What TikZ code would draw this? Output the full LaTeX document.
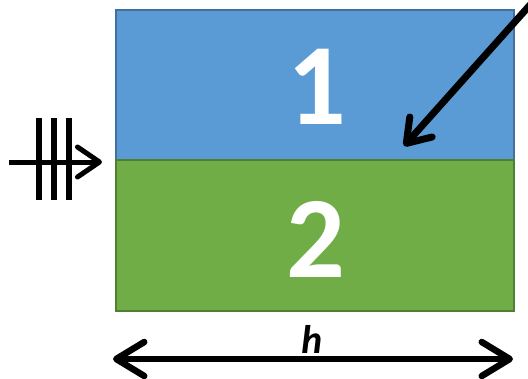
\documentclass[tikz,border=0pt]{standalone}
\usepackage{fontspec}
\setmainfont{Carlito}
\usetikzlibrary{arrows.meta}

\definecolor{boxblue}{HTML}{5B9BD5}
\definecolor{boxblueline}{HTML}{41719C}
\definecolor{boxgreen}{HTML}{70AD47}
\definecolor{boxgreenline}{HTML}{507E32}

\begin{document}
\begin{tikzpicture}[x=1pt,y=-1pt,
    barb/.style={line width=#1, -{Straight Barb[length=22pt,width=30pt,line cap=round,line join=round]}},
    barbs/.style={line width=#1, {Straight Barb[length=28pt,width=34pt,line cap=round,line join=round]}-{Straight Barb[length=28pt,width=34pt,line cap=round,line join=round]}},
    digit/.style={text=white, font=\fontsize{116}{116}\selectfont\bfseries, inner sep=0pt}]

		\useasboundingbox (0,0) rectangle (528,378);

		\coordinate (A) at (116,10);
		\coordinate (B) at (514,160);
		\coordinate (C) at (116,160);
		\coordinate (D) at (514,311);

		% the two layers
		\draw [fill=boxblue, draw=boxblueline, line width=1.5pt] (A) rectangle (B);
		\draw [fill=boxgreen, draw=boxgreenline, line width=1.5pt] (C) rectangle (D);

		\node [digit] (one) at (317,87) {1};
		\node [digit] (two) at (316,239) {2};

		% incoming flow from the left
		\coordinate (L) at (9,162);
		\coordinate (R) at (102,162);
		\draw [barb=5pt] (L) -- (R);
		\foreach \x in {39,54,69}
			\draw [line width=6pt] (\x,118) -- (\x,200);

		% diagonal arrow
		\coordinate (P) at (538,-4);
		\coordinate (Q) at (404,146);
		\draw [barb=7pt] (P) -- (Q);

		% width
		\coordinate (E) at (113,359);
		\coordinate (F) at (513,359);
		\draw [barbs=6.5pt] (E) -- (F);
		\node [font=\fontsize{40}{40}\selectfont\bfseries\itshape, inner sep=0pt] (h) at (312,339) {h};

\end{tikzpicture}
\end{document}
